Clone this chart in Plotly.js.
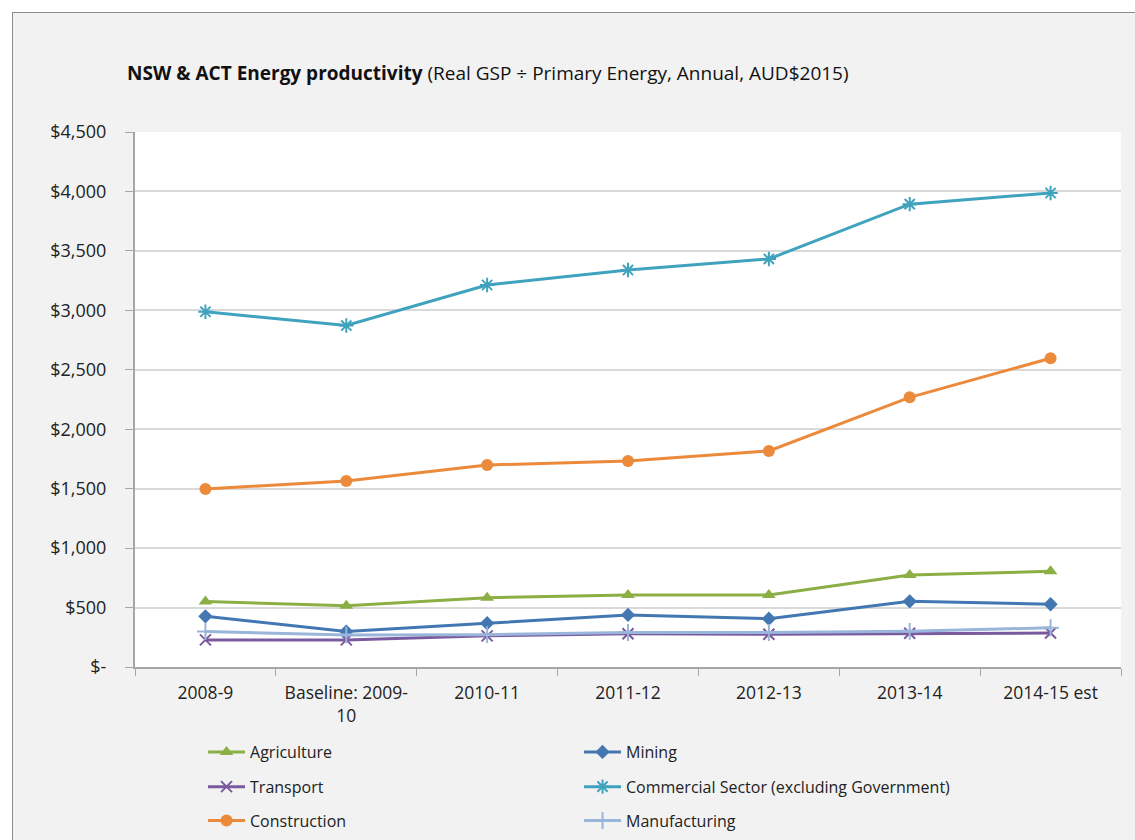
<!DOCTYPE html>
<html>
<head>
<meta charset="utf-8">
<script src="https://cdn.plot.ly/plotly-3.0.1.min.js"></script>
<style>
  html, body { margin: 0; padding: 0; background: #ffffff; }
  #chart { position: absolute; left: 12px; top: 12px; width: 1123px; height: 828px;
           border-left: 1px solid #8c8c8c; border-top: 1px solid #8c8c8c; }
</style>
</head>
<body>
<div id="chart"></div>
<script>
const categories = ["2008-9", "Baseline: 2009-<br>10", "2010-11", "2011-12", "2012-13", "2013-14", "2014-15 est"];
const agriculture   = [550, 516, 583, 606, 606, 774, 805];
const mining        = [426, 298, 368, 438, 406, 552, 528];
const transport     = [228, 228, 262, 280, 276, 284, 286];
const commercial    = [2988, 2872, 3213, 3339, 3432, 3893, 3987];
const construction  = [1497, 1565, 1699, 1733, 1817, 2268, 2597];
const manufacturing = [298, 270, 272, 290, 290, 300, 330];
const yTickVals  = [0, 500, 1000, 1500, 2000, 2500, 3000, 3500, 4000, 4500];
const yTickText  = ["$-", "$500", "$1,000", "$1,500", "$2,000", "$2,500", "$3,000", "$3,500", "$4,000", "$4,500"];

const FONT = "Open Sans, Liberation Sans, sans-serif";

function tr(name, y, color, symbol, msize, legend, mline) {
  return {
    type: "scatter", mode: "lines+markers", name: name,
    x: categories, y: y, legend: legend,
    line: { color: color, width: 3 },
    marker: { color: color, symbol: symbol, size: msize,
              line: { color: color, width: mline || 0 } }
  };
}

const data = [
  tr("Agriculture", agriculture, "#8BAF45", "triangle-up", 12, "legend"),
  tr("Mining", mining, "#4277B2", "diamond", 11, "legend"),
  tr("Transport", transport, "#7A5A9E", "x-thin", 11, "legend2", 2),
  tr("Commercial Sector (excluding Government)", commercial, "#3FA3BE", "asterisk-open", 12, "legend2", 2),
  tr("Construction", construction, "#EC8A3C", "circle", 12, "legend3"),
  tr("Manufacturing", manufacturing, "#9AB5DA", "cross-thin-open", 12, "legend3", 2)
];

function leg(y) {
  return {
    orientation: "h", x: 0.069, xanchor: "left",
    yref: "container", y: y, yanchor: "middle",
    bgcolor: "rgba(0,0,0,0)", entrywidth: 324, itemwidth: 37, traceorder: "normal",
    font: { family: FONT, size: 16, color: "#222" }
  };
}

const layout = {
  width: 1123, height: 828,
  paper_bgcolor: "#f2f2f2", plot_bgcolor: "#ffffff",
  margin: { l: 122, r: 15, t: 119, b: 174 },
  title: {
    text: "<b>NSW & ACT Energy productivity</b> (Real GSP ÷ Primary Energy, Annual, AUD$2015)",
    font: { family: FONT, size: 19, color: "#111" },
    xref: "container", x: 0.1016, xanchor: "left",
    yref: "container", y: 0.9275, yanchor: "middle"
  },
  xaxis: {
    type: "category", range: [-0.5, 6.5], tickson: "boundaries",
    ticks: "outside", ticklen: 7, ticklabelstandoff: 9,
    tickcolor: "#a6a6a6", showline: true, linecolor: "#a6a6a6", linewidth: 2,
    showgrid: false, tickfont: { family: FONT, size: 17.5, color: "#222" }
  },
  yaxis: {
    range: [0, 4500], tickvals: yTickVals, ticktext: yTickText,
    ticks: "outside", ticklen: 8, tickcolor: "#a6a6a6", ticklabelstandoff: 15,
    showline: true, linecolor: "#a6a6a6", linewidth: 2,
    gridcolor: "#d9d9d9", gridwidth: 2, zeroline: false,
    tickfont: { family: FONT, size: 18, color: "#222" }
  },
  showlegend: true,
  legend: leg(0.1075),
  legend2: leg(0.0655),
  legend3: leg(0.0245)
};

Plotly.newPlot("chart", data, layout, { displayModeBar: false, staticPlot: true });
</script>
</body>
</html>
